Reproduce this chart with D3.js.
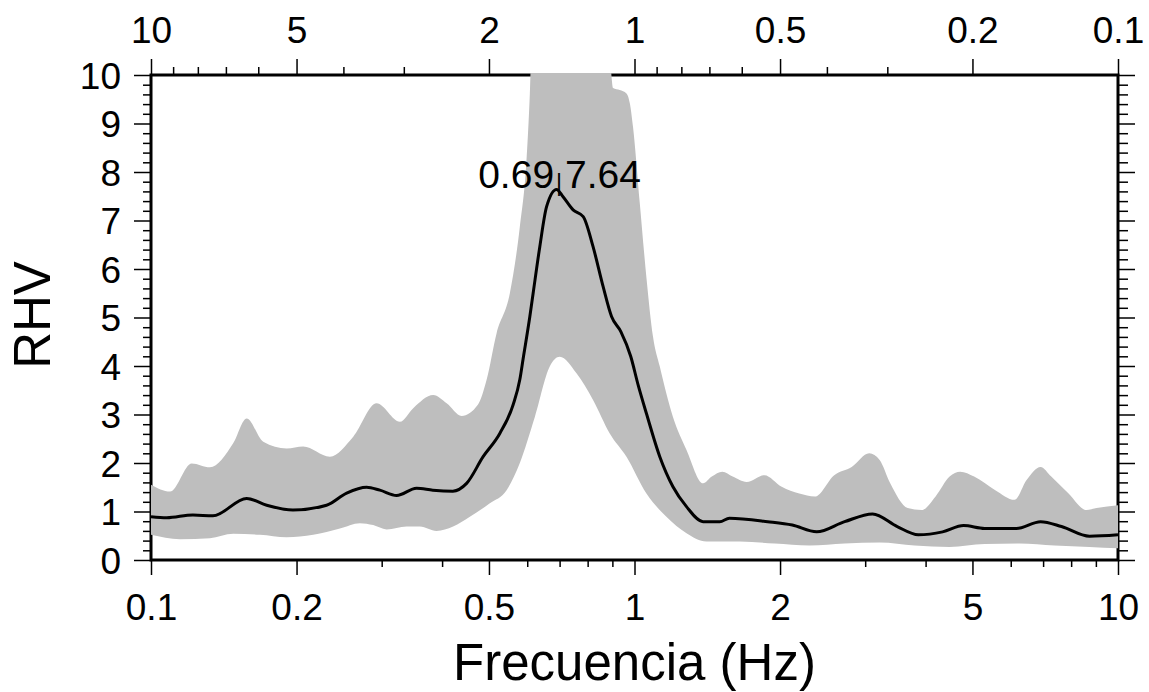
<!DOCTYPE html>
<html>
<head>
<meta charset="utf-8">
<script src="https://cdn.jsdelivr.net/npm/d3@7"></script>
<style>
  html, body { margin: 0; padding: 0; background: #fff; }
  svg { display: block; }
  text { font-family: "Liberation Sans", Arial, Helvetica, sans-serif; fill: #000; }
</style>
</head>
<body>
<svg id="chart" width="1149" height="692"></svg>
<script>
// ---- DATA ----
const medFreq = [0.1, 0.1078, 0.1221, 0.1343, 0.1577, 0.1735, 0.1966, 0.2307, 0.2539, 0.2792, 0.2974, 0.3221, 0.3542, 0.3828, 0.421, 0.4495, 0.4863, 0.5265, 0.561, 0.5792, 0.5884, 0.6075, 0.6171, 0.637, 0.6577, 0.69, 0.7116, 0.7464, 0.7833, 0.8209, 0.861, 0.8964, 0.937, 0.982, 1.018, 1.0585, 1.128, 1.201, 1.281, 1.386, 1.501, 1.571, 1.886, 2.12, 2.381, 2.72, 3.108, 3.495, 3.863, 4.338, 4.794, 5.297, 6.162, 6.916, 7.642, 8.732, 10];
const medVal = [0.89, 0.87, 0.93, 0.91, 1.27, 1.13, 1.03, 1.13, 1.38, 1.50, 1.44, 1.33, 1.48, 1.44, 1.42, 1.58, 2.13, 2.61, 3.2, 3.72, 4.15, 5.02, 5.5, 6.46, 7.28, 7.64, 7.49, 7.22, 7.08, 6.46, 5.64, 5.02, 4.71, 4.2, 3.6, 3.02, 2.13, 1.51, 1.10, 0.79, 0.79, 0.86, 0.79, 0.72, 0.58, 0.79, 0.95, 0.69, 0.52, 0.58, 0.71, 0.65, 0.65, 0.79, 0.69, 0.49, 0.52];

const upFreq = [0.1, 0.1095, 0.1214, 0.1324, 0.148, 0.1577, 0.1707, 0.1908, 0.2064, 0.2344, 0.262, 0.2928, 0.3271, 0.3486, 0.3834, 0.4088, 0.4389, 0.4742, 0.4943, 0.5184, 0.5523, 0.5792, 0.5979, 0.6075, 0.612, 0.885, 0.903, 0.932, 0.9625, 0.978, 0.993, 1.0252, 1.0585, 1.0924, 1.128, 1.201, 1.281, 1.386, 1.445, 1.519, 1.596, 1.706, 1.856, 2.016, 2.192, 2.362, 2.589, 2.813, 3.059, 3.214, 3.38, 3.672, 3.925, 4.195, 4.485, 4.717, 5.04, 5.574, 6.11, 6.47, 6.916, 7.277, 7.902, 8.6, 9.03, 10];
const upVal = [1.55, 1.41, 1.99, 1.91, 2.41, 2.92, 2.44, 2.30, 2.34, 2.13, 2.54, 3.23, 2.85, 3.13, 3.40, 3.23, 2.97, 3.2, 3.71, 4.67, 5.5, 6.87, 8.25, 9.62, 10.5, 10.5, 9.73, 9.69, 9.62, 9.42, 8.93, 7.37, 5.82, 4.6, 3.99, 2.95, 2.27, 1.58, 1.72, 1.82, 1.72, 1.61, 1.75, 1.51, 1.37, 1.31, 1.75, 1.92, 2.20, 2.06, 1.58, 1.07, 1.03, 1.31, 1.72, 1.82, 1.72, 1.44, 1.24, 1.65, 1.92, 1.72, 1.37, 1.03, 1.07, 1.13];

const loFreq = [0.1, 0.1148, 0.1324, 0.148, 0.168, 0.1908, 0.2165, 0.2459, 0.2704, 0.2881, 0.3071, 0.3378, 0.3599, 0.3896, 0.4215, 0.4565, 0.5021, 0.5438, 0.5792, 0.6221, 0.6679, 0.7005, 0.7586, 0.8209, 0.8888, 0.9625, 1.0585, 1.164, 1.281, 1.408, 1.651, 1.95, 2.303, 2.72, 3.214, 3.796, 4.485, 5.297, 6.259, 7.391, 8.732, 10];
const loVal = [0.52, 0.43, 0.45, 0.54, 0.52, 0.47, 0.52, 0.65, 0.76, 0.72, 0.63, 0.69, 0.69, 0.60, 0.69, 0.89, 1.17, 1.44, 2.0, 2.95, 3.99, 4.19, 3.85, 3.30, 2.61, 2.13, 1.37, 0.89, 0.55, 0.38, 0.38, 0.34, 0.30, 0.34, 0.36, 0.30, 0.27, 0.33, 0.34, 0.30, 0.27, 0.24];

const freqMajorTicks = [0.1, 0.2, 0.5, 1, 2, 5, 10];
const freqMinorTicks = [0.3, 0.4, 0.6, 0.7, 0.8, 0.9, 3, 4, 6, 7, 8, 9];
const periodMajorTicks = [10, 5, 2, 1, 0.5, 0.2, 0.1];
const periodMajorLabels = ["10", "5", "2", "1", "0.5", "0.2", "0.1"];
const periodMinorTicks = [9, 8, 7, 6, 4, 3, 0.9, 0.8, 0.7, 0.6, 0.4, 0.3];
const rhvMajorTicks = [0, 1, 2, 3, 4, 5, 6, 7, 8, 9, 10];
const rhvMinorTicks = [0.2,0.4,0.6,0.8,1.2,1.4,1.6,1.8,2.2,2.4,2.6,2.8,3.2,3.4,3.6,3.8,4.2,4.4,4.6,4.8,5.2,5.4,5.6,5.8,6.2,6.4,6.6,6.8,7.2,7.4,7.6,7.8,8.2,8.4,8.6,8.8,9.2,9.4,9.6,9.8];

const peakFreq = 0.69, peakVal = 7.64;
const xTitle = "Frecuencia (Hz)";
const yTitle = "RHV";

// ---- LAYOUT ----
const L = 151, R = 1118, T = 75, B = 560;
const svg = d3.select("#chart");
svg.append("rect").attr("width", 1149).attr("height", 692).attr("fill", "#fff");

const x = d3.scaleLog().domain([0.1, 10]).range([L, R]);
const y = d3.scaleLinear().domain([0, 10]).range([B, T]);

svg.append("defs").append("clipPath").attr("id", "clip")
  .append("rect").attr("x", L).attr("y", T - 2).attr("width", R - L).attr("height", B - T + 2);

// frame
svg.append("rect").attr("x", L).attr("y", T).attr("width", R - L).attr("height", B - T)
  .attr("fill", "none").attr("stroke", "#000").attr("stroke-width", 3);

// band (smooth upper edge forward, smooth lower edge backward)
const edge = d3.line().curve(d3.curveMonotoneX);
const upPts = upFreq.map((f, i) => [x(f), y(upVal[i])]);
const loPts = loFreq.map((f, i) => [x(f), y(loVal[i])]).reverse();
const bandD = edge(upPts) + "L" + edge(loPts).slice(1) + "Z";
svg.append("path")
  .attr("clip-path", "url(#clip)")
  .attr("d", bandD)
  .attr("fill", "#bebebe").attr("stroke", "none");

// median
const medLine = d3.line().x((d, i) => x(medFreq[i])).y(d => y(d)).curve(d3.curveMonotoneX);
svg.append("path")
  .attr("clip-path", "url(#clip)")
  .attr("d", medLine(medVal))
  .attr("fill", "none").attr("stroke", "#000").attr("stroke-width", 3).attr("stroke-linejoin", "round");

const fontSize = 37;
function styleAxis(g) {
  g.select(".domain").remove();
  g.selectAll(".tick line").attr("stroke", "#000").attr("stroke-width", 1.5);
  g.selectAll("text").attr("font-size", fontSize).attr("font-family", null).attr("fill", "#000");
}

// bottom axis
svg.append("g").attr("transform", `translate(0,${B})`)
  .call(d3.axisBottom(x).tickValues(freqMajorTicks).tickSize(15).tickFormat(d3.format("~g")))
  .call(styleAxis)
  .call(g => g.selectAll("text").attr("y", 60).attr("dy", 0));
svg.append("g").attr("transform", `translate(0,${B})`)
  .call(d3.axisBottom(x).tickValues(freqMinorTicks).tickSize(7).tickFormat(""))
  .call(styleAxis);

// top axis (period)
svg.append("g").attr("transform", `translate(0,${T})`)
  .call(d3.axisTop(x).tickValues(periodMajorTicks.map(p => 1 / p)).tickSize(16)
    .tickFormat((d, i) => periodMajorLabels[i]))
  .call(styleAxis)
  .call(g => g.selectAll("text").attr("y", -32).attr("dy", 0));
svg.append("g").attr("transform", `translate(0,${T})`)
  .call(d3.axisTop(x).tickValues(periodMinorTicks.map(p => 1 / p)).tickSize(8).tickFormat(""))
  .call(styleAxis);

// left axis
svg.append("g").attr("transform", `translate(${L},0)`)
  .call(d3.axisLeft(y).tickValues(rhvMajorTicks).tickSize(17).tickFormat(d3.format("d")))
  .call(styleAxis)
  .call(g => g.selectAll("text").attr("x", -30).attr("dy", "0.36em"));
svg.append("g").attr("transform", `translate(${L},0)`)
  .call(d3.axisLeft(y).tickValues(rhvMinorTicks).tickSize(8).tickFormat(""))
  .call(styleAxis);

// right axis
svg.append("g").attr("transform", `translate(${R},0)`)
  .call(d3.axisRight(y).tickValues(rhvMajorTicks).tickSize(17).tickFormat(""))
  .call(styleAxis);
svg.append("g").attr("transform", `translate(${R},0)`)
  .call(d3.axisRight(y).tickValues(rhvMinorTicks).tickSize(10).tickFormat(""))
  .call(styleAxis);

// peak annotation
const ann = svg.append("text")
  .attr("x", x(peakFreq) + 3).attr("y", y(peakVal) - 1)
  .attr("text-anchor", "middle").attr("font-size", 39);
ann.append("tspan").text(d3.format(".2f")(peakFreq));
ann.append("tspan").attr("font-size", 23).attr("dx", 2).attr("dy", 3).text("|");
ann.append("tspan").attr("dx", 3).attr("dy", -3).text(d3.format(".2f")(peakVal));

// titles
svg.append("text").attr("x", (L + R) / 2).attr("y", 680)
  .attr("text-anchor", "middle").attr("font-size", 51).text(xTitle);
svg.append("text").attr("transform", "translate(50,315) rotate(-90)")
  .attr("text-anchor", "middle").attr("font-size", 51).text(yTitle);
</script>
</body>
</html>
